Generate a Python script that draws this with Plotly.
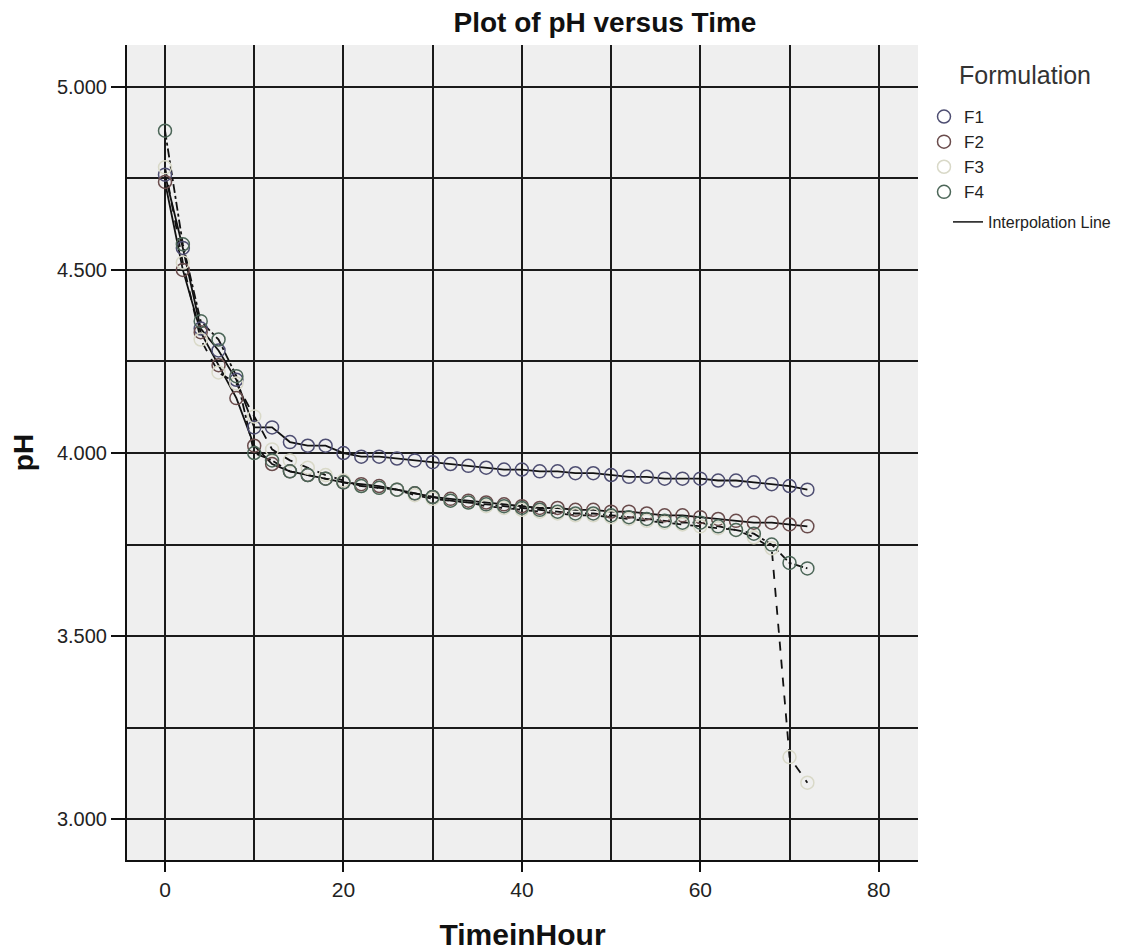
import plotly.graph_objects as go

time_h = [0, 2, 4, 6, 8, 10, 12, 14, 16, 18, 20, 22, 24, 26, 28, 30, 32, 34, 36,
          38, 40, 42, 44, 46, 48, 50, 52, 54, 56, 58, 60, 62, 64, 66, 68, 70, 72]

ph_f1 = [4.76, 4.56, 4.34, 4.28, 4.20, 4.07, 4.07, 4.03, 4.02, 4.02, 4.00, 3.99, 3.99,
         3.985, 3.98, 3.975, 3.97, 3.965, 3.96, 3.955, 3.955, 3.95, 3.95, 3.945, 3.945,
         3.94, 3.935, 3.935, 3.93, 3.93, 3.93, 3.925, 3.925, 3.92, 3.915, 3.91, 3.90]
ph_f2 = [4.74, 4.50, 4.33, 4.24, 4.15, 4.02, 3.97, 3.95, 3.94, 3.93, 3.92, 3.915, 3.91,
         3.90, 3.89, 3.88, 3.875, 3.87, 3.865, 3.86, 3.855, 3.85, 3.85, 3.845, 3.845,
         3.84, 3.84, 3.835, 3.83, 3.83, 3.825, 3.82, 3.815, 3.81, 3.81, 3.805, 3.80]
ph_f3 = [4.78, 4.52, 4.31, 4.22, 4.19, 4.10, 4.01, 3.98, 3.96, 3.94, 3.925, 3.91, 3.905,
         3.90, 3.885, 3.875, 3.87, 3.865, 3.855, 3.85, 3.845, 3.84, 3.835, 3.83, 3.83,
         3.825, 3.82, 3.815, 3.81, 3.805, 3.80, 3.795, 3.79, 3.77, 3.74, 3.17, 3.10]
ph_f4 = [4.88, 4.57, 4.36, 4.31, 4.21, 4.00, 3.98, 3.95, 3.94, 3.93, 3.92, 3.91, 3.905,
         3.90, 3.89, 3.88, 3.87, 3.865, 3.86, 3.855, 3.85, 3.845, 3.84, 3.835, 3.835,
         3.83, 3.825, 3.82, 3.815, 3.81, 3.81, 3.80, 3.79, 3.78, 3.75, 3.70, 3.685]

series_names = ["F1", "F2", "F3", "F4"]
series_values = [ph_f1, ph_f2, ph_f3, ph_f4]
marker_colors = ["#4e4e72", "#6a4c4c", "#d9d9c8", "#4c6658"]
line_dashes = ["solid", "solid", "dash", "dashdot"]

fig = go.Figure()

# interpolation lines
for name, vals, dash in zip(series_names, series_values, line_dashes):
    fig.add_trace(go.Scatter(
        x=time_h, y=vals, mode="lines", showlegend=False,
        line=dict(color="#111111", width=1.8, dash=dash), hoverinfo="skip"))

# markers
for name, vals, col in zip(series_names, series_values, marker_colors):
    fig.add_trace(go.Scatter(
        x=time_h, y=vals, mode="markers", name=name, legend="legend",
        marker=dict(symbol="circle-open", size=13, color=col, line=dict(width=1.5, color=col))))

# legend entry for interpolation line (second legend, placed under the first)
fig.add_trace(go.Scatter(x=[None], y=[None], mode="lines", legend="legend2",
                         name="Interpolation Line",
                         line=dict(color="#111111", width=1.5)))

FIG_W, FIG_H = 1124, 943
PLOT_L, PLOT_R, PLOT_T, PLOT_B = 119, 910, 37, 852
PW, PH = PLOT_R - PLOT_L, PLOT_B - PLOT_T

fig.update_layout(
    width=FIG_W, height=FIG_H,
    paper_bgcolor="white", plot_bgcolor="#efefef",
    margin=dict(l=PLOT_L, r=FIG_W - PLOT_R, t=PLOT_T, b=FIG_H - PLOT_B),
    font=dict(family="Arial, Liberation Sans, sans-serif", size=17, color="#222222"),
    title=dict(text="<b>Plot of pH versus Time</b>", x=597 / FIG_W, xanchor="center",
               y=1 - 4 / FIG_H, yanchor="top", pad=dict(t=0, b=0),
               font=dict(size=28, color="#111111")),
    legend=dict(x=(916 - PLOT_L) / PW, y=(PLOT_B - 91) / PH, xanchor="left", yanchor="top",
                bgcolor="rgba(0,0,0,0)", font=dict(size=17, color="#222222"),
                itemwidth=30),
    legend2=dict(x=(940 - PLOT_L) / PW, y=(PLOT_B - 197) / PH, xanchor="left", yanchor="top",
                 bgcolor="rgba(0,0,0,0)", font=dict(size=16, color="#222222"),
                 itemwidth=30),
    showlegend=True,
    annotations=[dict(text="Formulation", xref="paper", yref="paper",
                      x=1.135, y=0.963, xanchor="center", yanchor="middle",
                      showarrow=False, font=dict(size=25, color="#333333"))],
)

fig.update_xaxes(
    range=[-4.26, 84.4], dtick=20, tick0=0, automargin=False,
    showgrid=True, gridcolor="#1a1a1a", gridwidth=2,
    minor=dict(dtick=10, showgrid=True, gridcolor="#1a1a1a", gridwidth=2, ticks=""),
    ticks="outside", ticklen=10, tickwidth=2, tickcolor="#111111",
    showline=True, linecolor="#111111", linewidth=2, mirror=False,
    zeroline=False, tickfont=dict(size=21),
    title=dict(text="<b>TimeinHour</b>", font=dict(size=30, color="#111111"), standoff=24),
)
fig.update_yaxes(
    range=[2.889, 5.114], dtick=0.5, tick0=3.0, tickformat=".3f",
    showgrid=True, gridcolor="#1a1a1a", gridwidth=2,
    minor=dict(dtick=0.25, showgrid=True, gridcolor="#1a1a1a", gridwidth=2, ticks=""),
    ticks="outside", ticklen=14, tickwidth=2, tickcolor="#111111",
    showline=True, linecolor="#111111", linewidth=2, mirror=False,
    zeroline=False, tickfont=dict(size=20),
    title=dict(text="<b>pH</b>", font=dict(size=28, color="#111111"), standoff=16),
)

fig.write_html("out.html")
